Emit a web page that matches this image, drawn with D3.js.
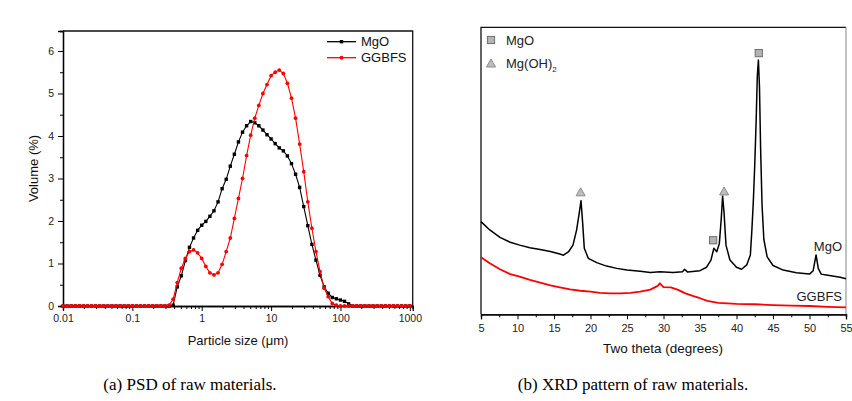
<!DOCTYPE html>
<html>
<head>
<meta charset="utf-8">
<script src="https://cdn.jsdelivr.net/npm/d3@7/dist/d3.min.js"></script>
<style>
  body { margin: 0; background: #fff; }
  svg { display: block; font-family: "Liberation Sans", Arial, sans-serif; }
  .caption { font-family: "Liberation Serif", "Times New Roman", serif; font-size: 17px; }
</style>
</head>
<body>
<svg id="fig" width="852" height="401"></svg>
<script>
// (a) PSD - particle size classes (um), shared by both powders
const sizes = [
  0.01, 0.01145, 0.01311, 0.01501, 0.01719, 0.01968, 0.02254, 0.0258, 0.02954, 0.03383, 0.03874, 0.04435, 0.05079, 0.05815, 0.06658, 0.07624, 0.08729,
  0.1, 0.1145, 0.1311, 0.1501, 0.1719, 0.1968, 0.2254, 0.258, 0.2954, 0.3383, 0.3874, 0.4435, 0.5079, 0.5815, 0.6658, 0.7624, 0.8729,
  1, 1.145, 1.311, 1.501, 1.719, 1.968, 2.254, 2.58, 2.954, 3.383, 3.874, 4.435, 5.079, 5.815, 6.658, 7.624, 8.729,
  10, 11.45, 13.11, 15.01, 17.19, 19.68, 22.54, 25.8, 29.54, 33.83, 38.74, 44.35, 50.79, 58.15, 66.58, 76.24, 87.29,
  100, 114.5, 131.1, 150.1, 171.9, 196.8, 225.4, 258, 295.4, 338.3, 387.4, 443.5, 507.9, 581.5, 665.8, 762.4, 872.9,
  1000
]
const mgoVol = [
  0, 0, 0, 0, 0, 0, 0, 0, 0, 0, 0, 0, 0, 0, 0, 0, 0,
  0, 0, 0, 0, 0, 0, 0, 0, 0, 0, 0.02, 0.45, 0.71, 1.07, 1.38, 1.6, 1.78,
  1.9, 1.99, 2.11, 2.24, 2.45, 2.76, 2.98, 3.29, 3.57, 3.86, 4.09, 4.24, 4.34, 4.31, 4.24, 4.14, 4.03,
  3.93, 3.82, 3.72, 3.65, 3.53, 3.35, 3.1, 2.79, 2.34, 1.89, 1.45, 1.08, 0.72, 0.45, 0.3, 0.2, 0.17,
  0.14, 0.11, 0.05, 0, 0, 0, 0, 0, 0, 0, 0, 0, 0, 0, 0, 0, 0,
  0
]
const slagVol = [
  0, 0, 0, 0, 0, 0, 0, 0, 0, 0, 0, 0, 0, 0, 0, 0, 0,
  0, 0, 0, 0, 0, 0, 0, 0, 0, 0.02, 0.16, 0.55, 0.89, 1.12, 1.28, 1.32, 1.25,
  1.12, 0.93, 0.78, 0.73, 0.78, 0.98, 1.28, 1.6, 2.06, 2.53, 3.0, 3.54, 4.02, 4.42, 4.72, 5.0, 5.21,
  5.42, 5.5, 5.55, 5.47, 5.24, 4.89, 4.42, 3.81, 3.16, 2.45, 1.83, 1.28, 0.81, 0.42, 0.22, 0.06, 0.02,
  0, 0, 0, 0, 0, 0, 0, 0, 0, 0, 0, 0, 0, 0, 0, 0, 0,
  0
]
const psdTicks = [0.01, 0.1, 1, 10, 100, 1000]
const psdTickLabels = ['0.01', '0.1', '1', '10', '100', '1000']
const volTicks = [0, 1, 2, 3, 4, 5, 6]

// (b) XRD - two theta (deg) and intensity (a.u.)
const mgoTheta = [5, 6.2, 7.6, 9, 10.3, 11.7, 13.1, 14.5, 15.8, 16.3, 17, 17.6, 18.1, 18.45, 18.7, 18.93, 19.15, 19.7, 20.85, 22.2, 23.6, 25, 26.8, 28.2, 29.5, 31.3, 32.6, 32.9, 33.3, 35, 35.9, 36.5, 36.9, 37.3, 37.65, 37.9, 38.1, 38.3, 38.56, 39.1, 40, 40.7, 41.4, 41.9, 42.1, 42.3, 42.5, 42.7, 42.85, 43, 43.15, 43.3, 43.5, 43.75, 44.2, 45, 46.4, 48.2, 50, 50.5, 50.9, 51.2, 51.6, 52.3, 54.2, 55]
const mgoInt = [323, 294, 268, 251, 241, 232, 226, 219, 210, 206, 218, 241, 294, 352, 396, 317, 230, 195, 180, 168, 160, 154, 150, 146, 148, 146, 148, 157, 147, 152, 164, 189, 230, 218, 247, 329, 412, 352, 241, 189, 164, 157, 172, 207, 290, 390, 520, 680, 830, 886, 790, 580, 380, 260, 200, 170, 154, 145, 140, 152, 207, 160, 140, 137, 129, 124]
const slagTheta = [5, 6.2, 7.6, 9, 10.3, 11.7, 13.1, 14.5, 15.8, 17.2, 18.6, 20, 21.3, 22.7, 24.1, 25.5, 26.8, 28.2, 29.2, 29.5, 30, 31, 32, 33, 34, 35, 36, 37.5, 40, 42.5, 45, 47.5, 50, 52.5, 55]
const slagInt = [199, 178, 157, 140, 131, 120, 110, 101, 94, 87, 82, 79, 75, 73, 73, 75, 79, 86, 99, 108, 95, 94, 85, 73, 64, 56, 47, 40, 36, 35, 32, 30, 29, 26, 24]
const thetaTicks = [5, 10, 15, 20, 25, 30, 35, 40, 45, 50, 55]
const thetaMinor = [7.5, 12.5, 17.5, 22.5, 27.5, 32.5, 37.5, 42.5, 47.5, 52.5]
// phase marks: [two theta, intensity of the mark, phase]
const peakMarks = [[18.65, 425, 'tri'], [38.3, 428, 'tri'], [36.8, 258, 'sq'], [43.05, 910, 'sq']]

const svg = d3.select('#fig')

// ---------- (a) PSD ----------
const gA = svg.append('g')
const xL = d3.scaleLog().domain([0.01, 1100]).range([63, 412.7])
const yL = d3.scaleLinear().domain([0, 6.47]).range([306, 31])

gA.append('g')
    .attr('transform', 'translate(0,306)')
    .call(d3.axisBottom(xL).tickValues(xL.ticks().filter(d => psdTicks.indexOf(d) < 0)).tickSize(3).tickFormat(''))
gA.append('g')
    .attr('transform', 'translate(0,306)')
    .call(d3.axisBottom(xL).tickValues(psdTicks).tickSize(5).tickPadding(4)
      .tickFormat((d, i) => psdTickLabels[i]))
gA.append('g')
    .attr('transform', 'translate(63,0)')
    .call(d3.axisLeft(yL).tickValues([0.5, 1.5, 2.5, 3.5, 4.5, 5.5]).tickSize(3).tickFormat(''))
gA.append('g')
    .attr('transform', 'translate(63,0)')
    .call(d3.axisLeft(yL).tickValues(volTicks).tickSize(5).tickPadding(4).tickFormat(d3.format('d')))
gA.selectAll('.domain').attr('stroke-width', 1.3)
gA.selectAll('.tick text').attr('font-size', 10.5).attr('fill', '#222')
gA.append('path')
    .attr('d', `M63,31H412.7V306`)
    .attr('fill', 'none').attr('stroke', '#111').attr('stroke-width', 1.3)

const lineA = (vals) => d3.line().x((d, i) => xL(sizes[i])).y(d => yL(d))(vals)
gA.append('path').attr('d', lineA(mgoVol)).attr('fill', 'none').attr('stroke', '#000').attr('stroke-width', 1.1)
gA.selectAll('rect.mgo').data(mgoVol).enter().append('rect')
    .attr('class', 'mgo')
    .attr('x', (d, i) => xL(sizes[i]) - 1.7).attr('y', d => yL(d) - 1.7)
    .attr('width', 3.4).attr('height', 3.4).attr('fill', '#000')
gA.append('path').attr('d', lineA(slagVol)).attr('fill', 'none').attr('stroke', '#f00').attr('stroke-width', 1.1)
gA.selectAll('circle.slag').data(slagVol).enter().append('circle')
    .attr('class', 'slag')
    .attr('cx', (d, i) => xL(sizes[i])).attr('cy', d => yL(d))
    .attr('r', 1.9).attr('fill', '#f00')

// legend
const legA = [['MgO', '#000', 'sq'], ['GGBFS', '#f00', 'ci']]
legA.forEach((l, i) => {
  const y = 41.7 + i * 16
  gA.append('line').attr('x1', 327).attr('x2', 356).attr('y1', y).attr('y2', y)
      .attr('stroke', l[1]).attr('stroke-width', 1.3)
  if (l[2] === 'sq') {
    gA.append('rect').attr('x', 339.8).attr('y', y - 1.7).attr('width', 3.4).attr('height', 3.4).attr('fill', l[1])
  } else {
    gA.append('circle').attr('cx', 341.5).attr('cy', y).attr('r', 2).attr('fill', l[1])
  }
  gA.append('text').attr('x', 361).attr('y', y).attr('dy', '0.36em')
      .attr('font-size', 13).attr('fill', '#111').text(l[0])
})
gA.append('text').attr('x', 238).attr('y', 345).attr('text-anchor', 'middle')
    .attr('font-size', 13).attr('fill', '#111').text('Particle size (\u03bcm)')
gA.append('text').attr('transform', 'translate(38,168.5) rotate(-90)').attr('text-anchor', 'middle')
    .attr('font-size', 13).attr('fill', '#111').text('Volume (%)')

// ---------- (b) XRD ----------
const gB = svg.append('g')
const xR = d3.scaleLinear().domain([5, 55]).range([481, 846])
const yR = d3.scaleLinear().domain([0, 1000]).range([314.3, 27.3])

gB.append('g')
    .attr('transform', 'translate(0,314.3)')
    .call(d3.axisBottom(xR).tickValues(thetaMinor).tickSize(3).tickFormat(''))
gB.append('g')
    .attr('transform', 'translate(0,314.3)')
    .call(d3.axisBottom(xR).tickValues(thetaTicks).tickSize(5).tickPadding(5))
gB.selectAll('.domain').attr('stroke-width', 1.3)
gB.selectAll('.tick text').attr('font-size', 11).attr('fill', '#222')
gB.append('path').attr('d', 'M481,314.3V27.3H846').attr('fill', 'none').attr('stroke', '#111').attr('stroke-width', 1.3)
gB.append('path').attr('d', 'M846,27.3V314.3').attr('fill', 'none').attr('stroke', '#999').attr('stroke-width', 1.2)

const lineB = d3.line().x(d => xR(d[0])).y(d => yR(d[1]))
gB.append('path').attr('d', lineB(slagTheta.map((t, i) => [t, slagInt[i]])))
    .attr('fill', 'none').attr('stroke', '#f00').attr('stroke-width', 1.8).attr('stroke-linejoin', 'round')
gB.append('path').attr('d', lineB(mgoTheta.map((t, i) => [t, mgoInt[i]])))
    .attr('fill', 'none').attr('stroke', '#000').attr('stroke-width', 1.5).attr('stroke-linejoin', 'round')

const mark = (g, kind, cx, cy) => {
  if (kind === 'sq') {
    g.append('rect').attr('x', cx - 3.6).attr('y', cy - 3.6).attr('width', 7.2).attr('height', 7.2)
        .attr('fill', '#b4b4b4').attr('stroke', '#6d6d6d').attr('stroke-width', 1)
  } else {
    g.append('path').attr('d', `M${cx},${cy - 4.5}L${cx + 4.5},${cy + 3.5}L${cx - 4.5},${cy + 3.5}Z`)
        .attr('fill', '#bdbdbd').attr('stroke', '#8a8a8a').attr('stroke-width', 1)
  }
}
peakMarks.forEach(p => mark(gB, p[2], xR(p[0]), yR(p[1])))

mark(gB, 'sq', 491, 40)
mark(gB, 'tri', 491, 63.5)
gB.append('text').attr('x', 506).attr('y', 40).attr('dy', '0.36em').attr('font-size', 13).attr('fill', '#222').text('MgO')
const t2 = gB.append('text').attr('x', 506).attr('y', 63.5).attr('dy', '0.36em').attr('font-size', 13).attr('fill', '#222')
t2.append('tspan').text('Mg(OH)')
t2.append('tspan').attr('font-size', 8).attr('dy', '4').text('2')

gB.append('text').attr('x', 842).attr('y', 250.5).attr('text-anchor', 'end').attr('font-size', 13).attr('fill', '#222').text('MgO')
gB.append('text').attr('x', 842).attr('y', 300.5).attr('text-anchor', 'end').attr('font-size', 13).attr('fill', '#222').text('GGBFS')
gB.append('text').attr('x', 663).attr('y', 353).attr('text-anchor', 'middle')
    .attr('font-size', 13.5).attr('fill', '#111').text('Two theta (degrees)')

// captions
svg.append('text').attr('class', 'caption').attr('x', 190).attr('y', 390).attr('text-anchor', 'middle').text('(a) PSD of raw materials.')
svg.append('text').attr('class', 'caption').attr('x', 633).attr('y', 390).attr('text-anchor', 'middle').text('(b) XRD pattern of raw materials.')
</script>
</body>
</html>
